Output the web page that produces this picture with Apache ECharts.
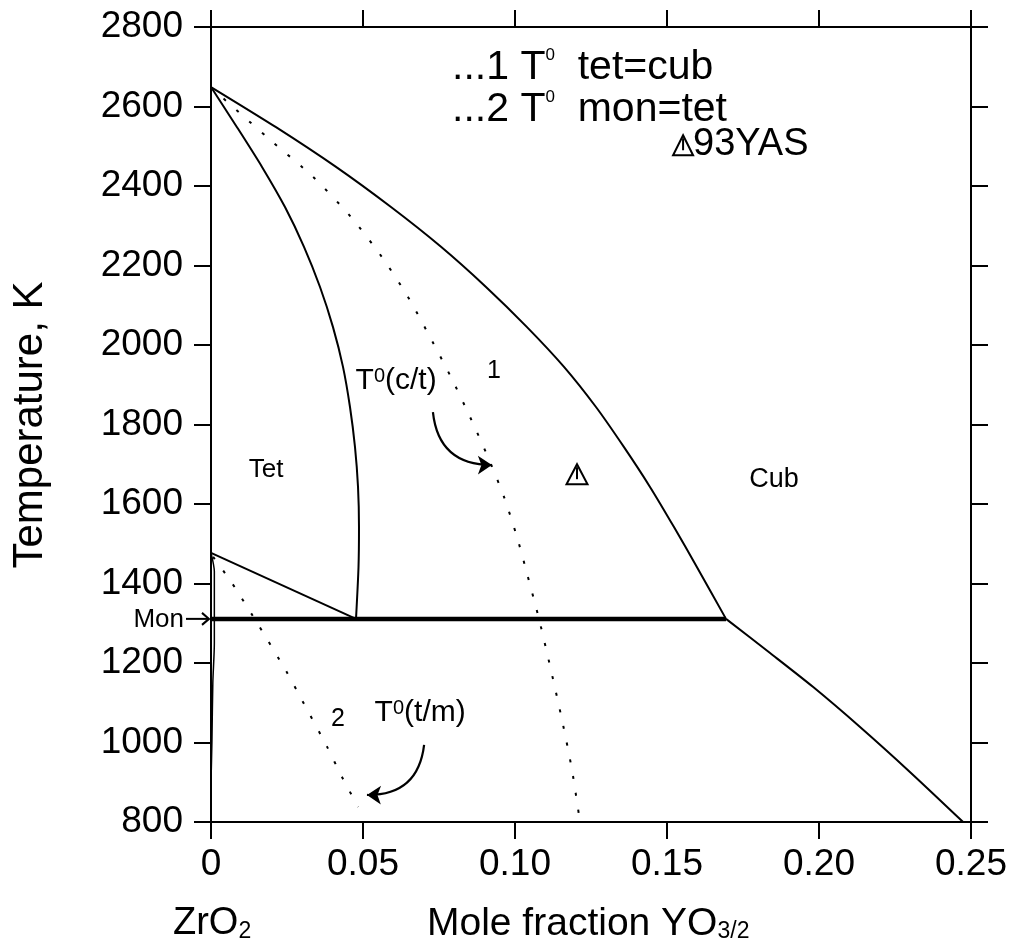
<!DOCTYPE html>
<html><head><meta charset="utf-8">
<script src="https://cdn.jsdelivr.net/npm/echarts/dist/echarts.min.js"></script>
<style>html,body{margin:0;padding:0;background:#fff}#c{width:1013px;height:947px}</style>
</head><body><div id="c"></div>
<script>
// ---- data (x = mole fraction YO3/2, y = temperature K) ----
const xTickLabels = ['0', '0.05', '0.10', '0.15', '0.20', '0.25'];
const yTickValues = [800, 1000, 1200, 1400, 1600, 1800, 2000, 2200, 2400, 2600, 2800];
const cubBoundary = [[0,2649],[0.02138,2548],[0.04112,2448],[0.05921,2347],[0.07566,2247],[0.09046,2146],[0.10395,2045],[0.11612,1945],[0.12664,1844],[0.13586,1743],[0.14441,1643],[0.15230,1542],[0.15987,1441],[0.16941,1311]];
const tetBoundary = [[0,2649],[0.00855,2548],[0.01678,2448],[0.02434,2347],[0.03059,2247],[0.03586,2146],[0.04013,2045],[0.04342,1945],[0.04572,1844],[0.04737,1743],[0.04836,1643],[0.04868,1542],[0.04852,1441],[0.04770,1311]];
const t0TetCub = [[0,2648],[0.01842,2523],[0.03355,2423],[0.04605,2322],[0.05625,2221],[0.06480,2121],[0.07204,2020],[0.07895,1919],[0.08520,1819],[0.09112,1718],[0.09638,1618],[0.10066,1517],[0.10428,1416],[0.10789,1311],[0.11184,1182],[0.11546,1057],[0.11875,931],[0.12138,800]];
const tetMonBoundary = [[0,1477],[0.0477,1311]];
const eutectoid = [[0,1311],[0.16941,1311]];
const cubSolvusLow = [[0.16941,1311],[0.1839,1225],[0.1980,1140],[0.2135,1039],[0.2299,926],[0.2474,800]];
const t0MonTet = [[0.0007,1467],[0.0069,1401],[0.0158,1293],[0.0247,1180],[0.0299,1107],[0.0382,989],[0.0431,913],[0.0484,838]];
const monBoundary = [[0,1477],[0.0011,1430],[0.0011,1250],[0.0006,1150],[0.0003,1000],[0,900]];
const arrowCT = [[0.0730,1831],[0.0924,1698]];
const arrowTM = [[0.0701,994],[0.0513,868]];

const FONT = '"Liberation Sans", Arial, Helvetica, sans-serif';
const chart = echarts.init(document.getElementById('c'), null, {renderer: 'canvas'});

function lineSeries(data, opts) {
  return Object.assign({
    type: 'line', data: data, showSymbol: false, symbol: 'none', smooth: 0.25,
    lineStyle: {color: '#000', width: 2}, silent: true, animation: false, z: 5
  }, opts || {});
}

const axisCommon = {
  axisLine: {show: true, onZero: false, lineStyle: {color: '#000', width: 2}},
  axisTick: {show: true, inside: false, length: 17, lineStyle: {color: '#000', width: 2}},
  splitLine: {show: false}
};

chart.setOption({
  animation: false,
  backgroundColor: '#fff',
  grid: {left: 211, right: 42, top: 27, bottom: 125, containLabel: false, outerBoundsMode: 'none'},
  xAxis: [
    Object.assign({type: 'value', min: 0, max: 0.25, interval: 0.05, position: 'bottom',
      axisLabel: {show: true, margin: 24, color: '#000', fontSize: 37, fontFamily: FONT,
        formatter: v => xTickLabels[Math.round(v / 0.05)]}}, axisCommon),
    Object.assign({type: 'value', min: 0, max: 0.25, interval: 0.05, position: 'top',
      axisLabel: {show: false}}, axisCommon)
  ],
  yAxis: [
    Object.assign({type: 'value', min: 800, max: 2800, interval: 200, position: 'left',
      axisLabel: {show: true, margin: 28, color: '#000', fontSize: 37, fontFamily: FONT,
        formatter: v => String(yTickValues[Math.round((v - 800) / 200)])}}, axisCommon),
    Object.assign({type: 'value', min: 800, max: 2800, interval: 200, position: 'right',
      axisLabel: {show: false}}, axisCommon)
  ],
  series: [
    lineSeries(cubBoundary),
    lineSeries(tetBoundary),
    lineSeries(t0TetCub, {lineStyle: {color: '#000', width: 2, type: [3, 14]}}),
    lineSeries(tetMonBoundary, {smooth: false}),
    lineSeries(eutectoid, {smooth: false, lineStyle: {color: '#000', width: 4.5}}),
    lineSeries(cubSolvusLow),
    lineSeries(t0MonTet, {lineStyle: {color: '#000', width: 2, type: [3, 14]}}),
    lineSeries(monBoundary, {lineStyle: {color: '#000', width: 1.5}}),
    {type: 'lines', coordinateSystem: 'cartesian2d', silent: true, animation: false, z: 6,
      symbol: ['none', 'arrow'], symbolSize: [11, 14],
      lineStyle: {color: '#000', width: 2.2, opacity: 1, curveness: -0.45},
      data: [{coords: arrowCT}]},
    {type: 'lines', coordinateSystem: 'cartesian2d', silent: true, animation: false, z: 6,
      symbol: ['none', 'arrow'], symbolSize: [11, 14],
      lineStyle: {color: '#000', width: 2.2, opacity: 1, curveness: 0.45},
      data: [{coords: arrowTM}]}
  ]
});

function P(x, y) { return chart.convertToPixel({xAxisIndex: 0, yAxisIndex: 0}, [x, y]); }

function txt(text, at, size) {
  const p = P(at[0], at[1]);
  return {type: 'text', z: 20, silent: true,
    style: {text: text, x: p[0], y: p[1], fill: '#000', fontSize: size, fontFamily: FONT,
      align: 'center', verticalAlign: 'middle'}};
}

function warnTri(cx, cy, w, h) {
  return {type: 'group', z: 20, silent: true, children: [
    {type: 'polygon', shape: {points: [[cx, cy - h / 2], [cx + w / 2, cy + h / 2], [cx - w / 2, cy + h / 2]]},
      style: {fill: 'none', stroke: '#000', lineWidth: 2}},
    {type: 'line', shape: {x1: cx, y1: cy - h / 2 + 3, x2: cx, y2: cy + h / 2 - 5},
      style: {stroke: '#000', lineWidth: 2}}
  ]};
}

const supRich = {s: {fontSize: 17, fontFamily: FONT, verticalAlign: 'top', fill: '#000'}};
const supRich2 = {s: {fontSize: 20, fontFamily: FONT, verticalAlign: 'top', fill: '#000'}};

const gr = [];
// header legend
let hp = P(0.0793, 2698);
gr.push({type: 'text', z: 20, silent: true, style: {text: '...1 T{s|0}  tet=cub', x: hp[0], y: hp[1], fill: '#000', fontSize: 41, fontFamily: FONT, align: 'left', verticalAlign: 'middle', rich: supRich}});
hp = P(0.0793, 2592);
gr.push({type: 'text', z: 20, silent: true, style: {text: '...2 T{s|0}  mon=tet', x: hp[0], y: hp[1], fill: '#000', fontSize: 41, fontFamily: FONT, align: 'left', verticalAlign: 'middle', rich: supRich}});
hp = P(0.152, 2505);
gr.push(warnTri(hp[0] + 10, hp[1] + 1, 20, 20));
gr.push({type: 'text', z: 20, silent: true, style: {text: '93YAS', x: hp[0] + 20, y: hp[1], fill: '#000', fontSize: 38, fontFamily: FONT, align: 'left', verticalAlign: 'middle'}});

// region labels
gr.push(txt('Tet', [0.0181, 1686], 26));
gr.push(txt('Cub', [0.1852, 1662], 27));
gr.push(txt('1', [0.0931, 1935], 25));
gr.push(txt('2', [0.0418, 1059], 25));
let tp = P(0.0609, 1909);
gr.push({type: 'text', z: 20, silent: true, style: {text: 'T{s|0}(c/t)', x: tp[0], y: tp[1], fill: '#000', fontSize: 30, fontFamily: FONT, align: 'center', verticalAlign: 'middle', rich: supRich2}});
tp = P(0.0688, 1074);
gr.push({type: 'text', z: 20, silent: true, style: {text: 'T{s|0}(t/m)', x: tp[0], y: tp[1], fill: '#000', fontSize: 30, fontFamily: FONT, align: 'center', verticalAlign: 'middle', rich: supRich2}});
tp = P(0.1204, 1675);
gr.push(warnTri(tp[0], tp[1], 21, 20));

// Mon arrow
const mp = P(0, 1311);
gr.push({type: 'line', z: 20, silent: true, shape: {x1: mp[0] - 25, y1: mp[1], x2: mp[0] - 2, y2: mp[1]}, style: {stroke: '#000', lineWidth: 2}});
gr.push({type: 'polyline', z: 20, silent: true, shape: {points: [[mp[0] - 9, mp[1] - 6], [mp[0] - 2, mp[1]], [mp[0] - 9, mp[1] + 6]]}, style: {stroke: '#000', lineWidth: 2, fill: 'none'}});
gr.push({type: 'text', z: 20, silent: true, style: {text: 'Mon', x: mp[0] - 27, y: mp[1] + 1, fill: '#000', fontSize: 26, fontFamily: FONT, align: 'right', verticalAlign: 'middle'}});

// axis titles
gr.push({type: 'text', z: 20, silent: true, x: 30, y: 425, rotation: Math.PI / 2,
  style: {text: 'Temperature, K', x: 0, y: 0, fill: '#000', fontSize: 42, fontFamily: FONT, align: 'center', verticalAlign: 'middle'}});
gr.push({type: 'text', z: 20, silent: true,
  style: {text: 'ZrO{b|2}', x: 173, y: 924, fill: '#000', fontSize: 38, fontFamily: FONT, align: 'left', verticalAlign: 'middle',
    rich: {b: {fontSize: 23, fontFamily: FONT, verticalAlign: 'bottom', fill: '#000'}}}});
gr.push({type: 'text', z: 20, silent: true,
  style: {text: 'Mole fraction YO{b|3/2}', x: 427, y: 924, fill: '#000', fontSize: 39, fontFamily: FONT, align: 'left', verticalAlign: 'middle',
    rich: {b: {fontSize: 23, fontFamily: FONT, verticalAlign: 'bottom', fill: '#000'}}}});

chart.setOption({graphic: gr});
</script>
</body></html>
